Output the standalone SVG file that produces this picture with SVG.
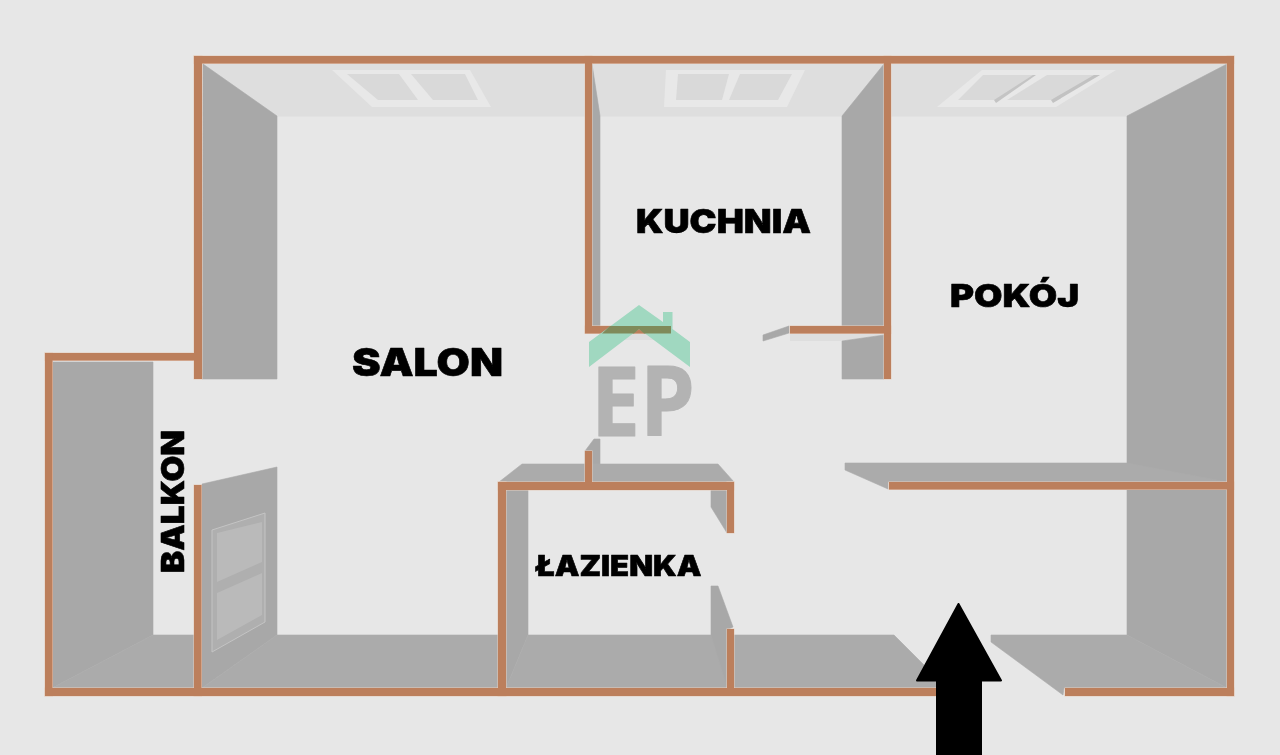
<svg xmlns="http://www.w3.org/2000/svg" width="1280" height="755" viewBox="0 0 1280 755">
<style>
.band{fill:#dedede}
.side{fill:#a8a8a8;stroke:#a8a8a8;stroke-width:.6}
.low{fill:#ababab;stroke:#ababab;stroke-width:.6}
.frame{fill:#e8e8e8}
.pane{fill:#d9d9d9}
.bframe{fill:#afafaf;stroke:#c4c4c4;stroke-width:1}
.bpane{fill:#bababa}
.label{font-family:Inter,"Liberation Sans",Arial,sans-serif;font-weight:900;fill:#000;stroke:#000;stroke-width:.6;stroke-linejoin:round}
.halo{fill:#e6cdbd;stroke:#e6cdbd;stroke-width:1}
.solid{fill:#bc7f5c}
</style>
<defs>
<filter id="soft" x="-2%" y="-2%" width="104%" height="104%"><feGaussianBlur stdDeviation="0.45"/></filter>
<g id="wall-shapes">
<rect x="194" y="56" width="1040" height="7.5"/>
<rect x="194" y="56" width="8" height="323"/>
<rect x="585" y="56" width="7" height="277"/>
<rect x="585" y="326" width="86" height="7.5"/>
<rect x="884" y="56" width="7" height="323"/>
<rect x="790" y="326" width="101" height="7.5"/>
<rect x="1227" y="56" width="7" height="640"/>
<rect x="889" y="482" width="345" height="7.5"/>
<rect x="45" y="353" width="156" height="7.5"/>
<rect x="45" y="353" width="7.5" height="343"/>
<rect x="194" y="485" width="7.5" height="211"/>
<rect x="45" y="688" width="900" height="8"/>
<rect x="1065" y="688" width="169" height="8"/>
<rect x="498" y="482" width="236" height="8"/>
<rect x="498" y="482" width="8" height="214"/>
<rect x="585" y="451" width="7" height="35"/>
<rect x="727" y="482" width="7" height="51"/>
<rect x="727" y="629" width="7" height="62"/>
</g>
</defs>
<rect id="background" width="1280" height="755" fill="#e7e7e7"/>
<g id="plan" filter="url(#soft)">
<g id="ceiling-bands">
<rect class="band" x="202" y="63" width="383" height="53.5"/>
<rect class="band" x="592" y="63" width="292" height="53.5"/>
<rect class="band" x="891" y="63" width="336" height="53.5"/>
<polygon class="band" points="790,333 884,333 884,335 842,341 790,341"/>
<rect class="band" x="600" y="333" width="60" height="7"/>
</g>
<g id="windows">
<polygon class="frame" points="332,70 470,70 491,107 372,107"/>
<polygon class="pane" points="347,74 399,74 418,100 378,100"/>
<polygon class="pane" points="411,74 465,74 478,100 433,100"/>
<polygon class="frame" points="666,70 805,70 787,107 664,107"/>
<polygon class="pane" points="678,74 729,74 722,100 676,100"/>
<polygon class="pane" points="740,74 792,74 778,100 729,100"/>
<polygon class="frame" points="982,70 1116,70 1056,107 937,107"/>
<polygon class="pane" points="983,75 1035,75 995,100 958,100"/>
<polygon class="pane" points="1047,75 1100,75 1052,100 1007,100"/>
<polygon fill="#c2c2c2" points="1094,75 1100,75 1053,103 1051,100"/>
<polygon fill="#c4c4c4" points="1033,75 1036,75 996,103 994,100"/>
</g>
<g id="side-walls">
<polygon class="side" points="203,64 277,116 277,379 202,379"/>
<polygon class="side" points="592,64 600,116 600,326 592,326"/>
<polygon class="side" points="884,64 842,116 842,326 884,326"/>
<polygon class="side" points="884,335 842,341 842,379 884,379"/>
<polygon class="side" points="763,335 789,326 789,333 763,341"/>
<polygon class="side" points="1227,64 1127,116 1127,482 1227,482"/>
<polygon class="side" points="1127,490 1227,490 1227,688 1127,635"/>
<polygon class="side" points="52,362 153,362 153,635 52,688"/>
<polygon class="side" points="202,484 277,467 277,635 202,688"/>
<polygon class="side" points="506,490 528,490 528,635 506,688"/>
<polygon class="side" points="711,490 727,490 727,533 711,507"/>
<polygon class="side" points="711,586 718,586 733,627 727,630 727,688 711,688"/>
<polygon class="side" points="585,451 594,439 600,439 600,464 585,464"/>
</g>
<g id="floor-bands">
<polygon class="low" points="52,688 153,635 194,635 194,688"/>
<polygon class="low" points="202,688 277,635 498,635 498,688"/>
<polygon class="low" points="506,688 528,635 711,635 727,688"/>
<polygon class="low" points="734,635 894,635 947,688 734,688"/>
<polygon class="low" points="991,635 1127,635 1227,688 1064,688 1063,695 991,642"/>
<polygon class="low" points="499,482 522,464 718,464 734,482"/>
<polygon class="low" points="845,463 1127,463 1227,482 888,482 888,489 845,470"/>
</g>
<g id="balcony-door">
<polygon class="bframe" points="212,530 265,513 265,622 212,652"/>
<polygon class="bpane" points="217,533 262,522 262,562 217,582"/>
<polygon class="bpane" points="217,593 262,573 262,615 217,640"/>
</g>
<g id="walls">
<use href="#wall-shapes" class="halo"/>
<use href="#wall-shapes" class="solid"/>
</g>
<g id="logo">
<polygon fill="#a0d8c0" points="639,305 663,322 663,312 672.500,312 672.500,329 690,342 690,367 639,329 589,367 589,342"/>
<polygon fill="#7f8a5a" points="610,326 671,326 671,333.500 644,333.500 639,329 634,333.500 602,333.500"/>
<text x="591" y="436" font-family="'Open Sans','Liberation Sans',sans-serif" font-weight="700" font-size="97" fill="#b3b3b3" stroke="#b3b3b3" stroke-width="1" stroke-linejoin="round" textLength="104" lengthAdjust="spacingAndGlyphs">EP</text>
</g>
<g id="labels">
<text class="label" x="636" y="233" font-size="33" textLength="175" lengthAdjust="spacingAndGlyphs">KUCHNIA</text>
<text class="label" x="352" y="375.500" font-size="38" textLength="151" lengthAdjust="spacingAndGlyphs">SALON</text>
<text class="label" x="950" y="306.500" font-size="32" textLength="129" lengthAdjust="spacingAndGlyphs">POKÓJ</text>
<text class="label" x="535.500" y="576" font-size="28" textLength="166" lengthAdjust="spacingAndGlyphs">ŁAZIENKA</text>
<text class="label" transform="translate(184 573) rotate(-90)" font-size="32" textLength="143" lengthAdjust="spacingAndGlyphs">BALKON</text>
</g>
<g id="entry-arrow">
<polygon fill="#000" stroke="#000" stroke-width="2" stroke-linejoin="round" points="958.500,604 1001,680.500 981,680.500 981,755 937,755 937,680.500 917,680.500"/>
</g>
</g>
</svg>
